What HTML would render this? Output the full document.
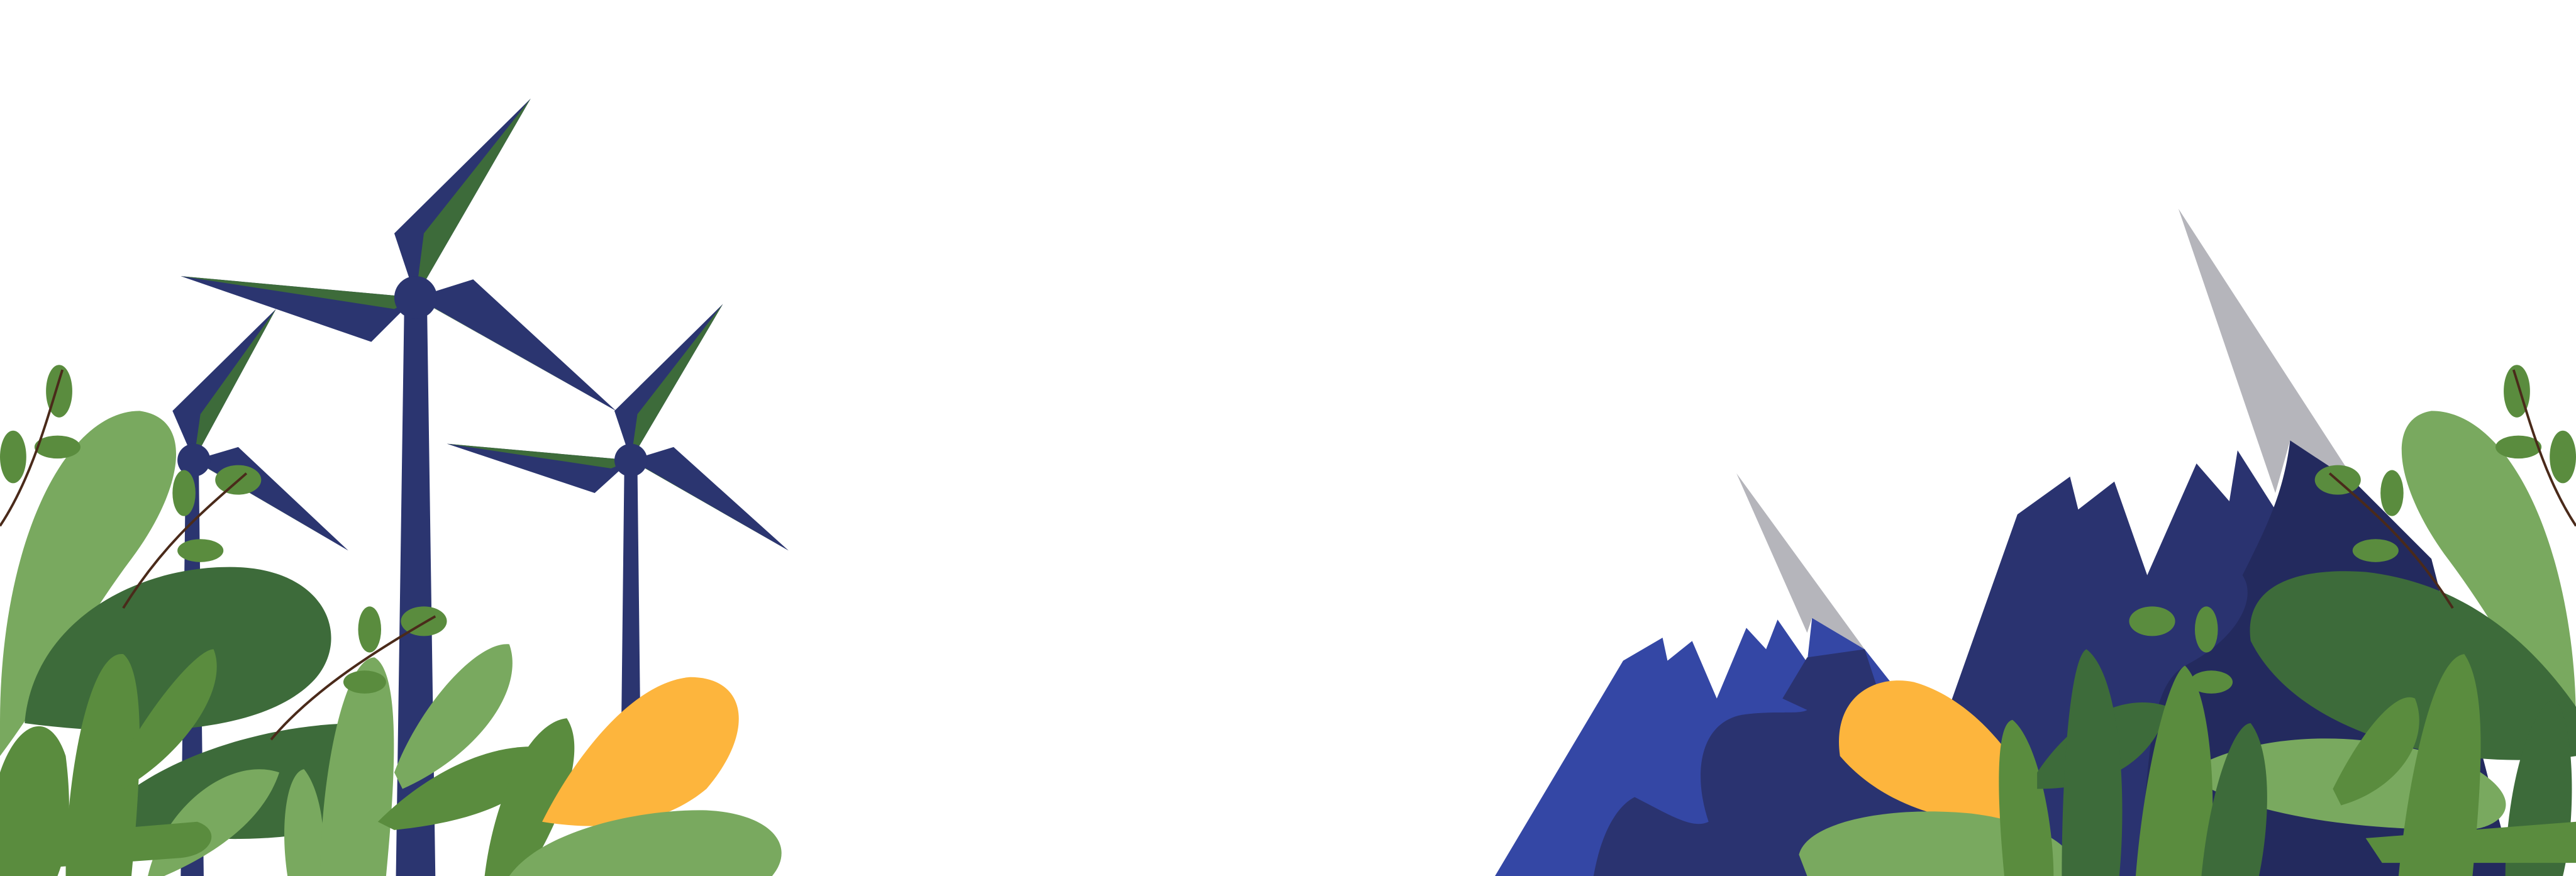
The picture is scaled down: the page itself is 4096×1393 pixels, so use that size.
<!DOCTYPE html>
<html><head><meta charset="utf-8"><style>html,body{margin:0;padding:0;background:#fff;overflow:hidden}svg{display:block}</style></head>
<body>
<svg width="4096" height="1393" viewBox="0 0 1568 533" preserveAspectRatio="none" xmlns="http://www.w3.org/2000/svg">
<rect width="1568" height="533" fill="#fff"/>
<!-- mountains -->
<polygon points="910,533 988,402 1012,388 1015,402 1030,390 1045,425 1063,382 1075,395 1082,377 1100,403 1103,376 1135,395 1165,433 1180,533" fill="#3447a5"/>
<polygon points="1057,288 1100,385 1103,376 1135,395" fill="#b5b5bb"/>
<path d="M970,533 C975,505 985,490 995,485 C1015,495 1030,505 1040,500 C1030,470 1035,440 1060,435 C1080,432 1095,435 1100,432 L1085,425 L1100,400 L1135,395 L1180,533 Z" fill="#2a3370"/>
<polygon points="1150,533 1228,313 1260,290 1265,310 1287,293 1307,350 1337,282 1357,305 1362,274 1390,318 1394,268 1410,280 1460,330 1530,533" fill="#2a3370"/>
<polygon points="1326,127 1385,300 1394,268 1435,295" fill="#b5b5bb"/>
<path d="M1394,268 L1435,295 L1480,340 L1530,533 L1300,533 C1310,470 1305,420 1330,405 C1360,390 1375,365 1365,350 C1380,320 1390,300 1394,268 Z" fill="#232a5e"/>
<!-- turbines -->
<polygon points="246,190 260,190 265,533 241,533" fill="#2b3570"/>
<polygon points="380,285 388,285 390,460 378,460" fill="#2b3570"/>
<polygon points="113,285 121,285 124,533 110,533" fill="#2b3570"/>
<g>
<polygon points="253,181 240,142 323,60" fill="#2b3570"/><polygon points="253,181 258,142 323,60" fill="#3d6b3a"/>
<polygon points="253,181 110,168 226,208" fill="#2b3570"/><polygon points="253,181 110,168 240,188" fill="#3d6b3a"/>
<polygon points="253,181 288,170 375,250" fill="#2b3570"/><polygon points="253,181 265,188 375,250" fill="#3d6b3a"/>
<circle cx="253" cy="181" r="13" fill="#2b3570"/>
</g>
<g>
<polygon points="384,280 374,250 440,185" fill="#2b3570"/><polygon points="384,280 388,252 440,185" fill="#3d6b3a"/>
<polygon points="384,280 272,270 362,300" fill="#2b3570"/><polygon points="384,280 272,270 372,285" fill="#3d6b3a"/>
<polygon points="384,280 410,272 480,335" fill="#2b3570"/><polygon points="384,280 395,286 480,335" fill="#3d6b3a"/>
<circle cx="384" cy="280" r="10" fill="#2b3570"/>
</g>
<g>
<polygon points="118,280 105,250 168,188" fill="#2b3570"/><polygon points="118,280 122,252 168,188" fill="#3d6b3a"/>
<polygon points="118,280 145,272 212,335" fill="#2b3570"/><polygon points="118,280 128,286 212,335" fill="#3d6b3a"/>
<circle cx="118" cy="280" r="10" fill="#2b3570"/>
</g>
<!-- left foliage -->
<path d="M0,440 C0,330 40,250 85,250 C120,255 110,300 80,340 C50,380 30,420 0,460 Z" fill="#79a95f"/>
<path d="M15,440 C20,380 80,345 140,345 C200,345 215,390 190,415 C160,445 90,450 15,440 Z" fill="#3d6b3a"/>
<path d="M60,500 C80,470 150,440 220,440 C250,460 240,490 200,505 C150,515 100,510 60,500 Z" fill="#3d6b3a"/>
<path d="M0,533 L0,470 C10,440 30,430 40,460 C45,500 40,520 35,533 Z" fill="#5a8c3e"/>
<path d="M40,533 C40,470 55,395 75,398 C90,410 85,480 80,533 Z" fill="#5a8c3e"/>
<path d="M70,470 C90,430 120,395 130,395 C140,420 110,460 75,480 Z" fill="#5a8c3e"/>
<path d="M90,533 C100,490 140,460 170,470 C160,500 130,520 100,533 Z" fill="#79a95f"/>
<path d="M175,533 C170,500 175,470 185,468 C195,480 200,510 195,533 Z" fill="#79a95f"/>
<path d="M195,533 C195,470 210,400 228,400 C245,410 240,480 235,533 Z" fill="#79a95f"/>
<path d="M240,470 C255,430 290,390 310,392 C320,420 290,460 245,480 Z" fill="#79a95f"/>
<path d="M230,500 C260,470 300,450 335,455 C330,485 290,500 240,505 Z" fill="#5a8c3e"/>
<path d="M295,533 C300,490 320,440 345,437 C360,460 335,510 320,533 Z" fill="#5a8c3e"/>
<path d="M330,500 C350,460 385,415 420,412 C455,412 460,445 430,480 C400,505 360,505 330,500 Z" fill="#fdb53d"/>
<path d="M310,533 C330,505 390,492 430,493 C470,495 485,515 470,533 Z" fill="#79a95f"/>
<path d="M0,510 L120,500 C135,505 130,520 110,522 L0,530 Z" fill="#5a8c3e"/>
<g fill="#5a8c3e"><ellipse cx="36" cy="238" rx="8" ry="16"/><ellipse cx="35" cy="272" rx="14" ry="7"/><ellipse cx="145" cy="292" rx="14" ry="9"/><ellipse cx="122" cy="335" rx="14" ry="7"/><ellipse cx="258" cy="378" rx="14" ry="9"/><ellipse cx="225" cy="383" rx="7" ry="14"/><ellipse cx="222" cy="415" rx="13" ry="7"/><ellipse cx="8" cy="278" rx="8" ry="16"/><ellipse cx="112" cy="300" rx="7" ry="14"/></g>
<path d="M0,320 C20,290 30,250 38,225 M75,370 C100,330 125,310 150,288 M165,450 C190,420 230,395 265,375" stroke="#4a2a1a" stroke-width="1.5" fill="none"/>
<!-- right foliage -->
<path d="M1568,440 C1568,340 1530,250 1480,250 C1450,255 1460,300 1490,340 C1520,380 1540,420 1568,460 Z" fill="#79a95f"/>
<path d="M1370,390 C1365,355 1400,345 1440,348 C1500,355 1540,390 1568,430 L1568,460 C1500,470 1400,450 1370,390 Z" fill="#3d6b3a"/>
<path d="M1330,470 C1380,440 1460,445 1510,470 C1540,490 1520,505 1500,505 C1430,505 1360,495 1330,470 Z" fill="#79a95f"/>
<path d="M1120,460 C1115,425 1140,410 1165,415 C1200,425 1230,460 1245,500 C1200,505 1150,495 1120,460 Z" fill="#fdb53d"/>
<path d="M1095,520 C1100,500 1150,490 1200,495 C1240,500 1265,515 1265,533 L1100,533 Z" fill="#79a95f"/>
<path d="M1220,533 C1215,480 1215,440 1225,438 C1240,450 1250,500 1250,533 Z" fill="#5a8c3e"/>
<path d="M1240,470 C1260,440 1290,420 1320,430 C1310,465 1280,480 1240,480 Z" fill="#3d6b3a"/>
<path d="M1255,533 C1255,470 1260,400 1270,395 C1290,410 1295,480 1290,533 Z" fill="#3d6b3a"/>
<path d="M1300,533 C1305,470 1320,410 1330,405 C1345,420 1350,480 1345,533 Z" fill="#5a8c3e"/>
<path d="M1340,533 C1345,480 1360,440 1370,440 C1385,460 1380,510 1375,533 Z" fill="#3d6b3a"/>
<path d="M1420,480 C1440,440 1460,420 1470,425 C1480,450 1460,480 1425,490 Z" fill="#5a8c3e"/>
<path d="M1460,533 C1465,480 1480,400 1500,398 C1515,420 1510,480 1505,533 Z" fill="#5a8c3e"/>
<path d="M1525,533 C1525,480 1540,430 1555,425 C1568,440 1568,500 1560,533 Z" fill="#3d6b3a"/>
<path d="M1440,510 L1568,500 L1568,525 L1450,525 Z" fill="#5a8c3e"/>
<g fill="#5a8c3e"><ellipse cx="1532" cy="238" rx="8" ry="16"/><ellipse cx="1533" cy="272" rx="14" ry="7"/><ellipse cx="1423" cy="292" rx="14" ry="9"/><ellipse cx="1446" cy="335" rx="14" ry="7"/><ellipse cx="1310" cy="378" rx="14" ry="9"/><ellipse cx="1343" cy="383" rx="7" ry="14"/><ellipse cx="1346" cy="415" rx="13" ry="7"/><ellipse cx="1560" cy="278" rx="8" ry="16"/><ellipse cx="1456" cy="300" rx="7" ry="14"/></g>
<path d="M1568,320 C1548,290 1538,250 1530,225 M1493,370 C1468,330 1443,310 1418,288" stroke="#4a2a1a" stroke-width="1.5" fill="none"/>
</svg>
</body></html>
